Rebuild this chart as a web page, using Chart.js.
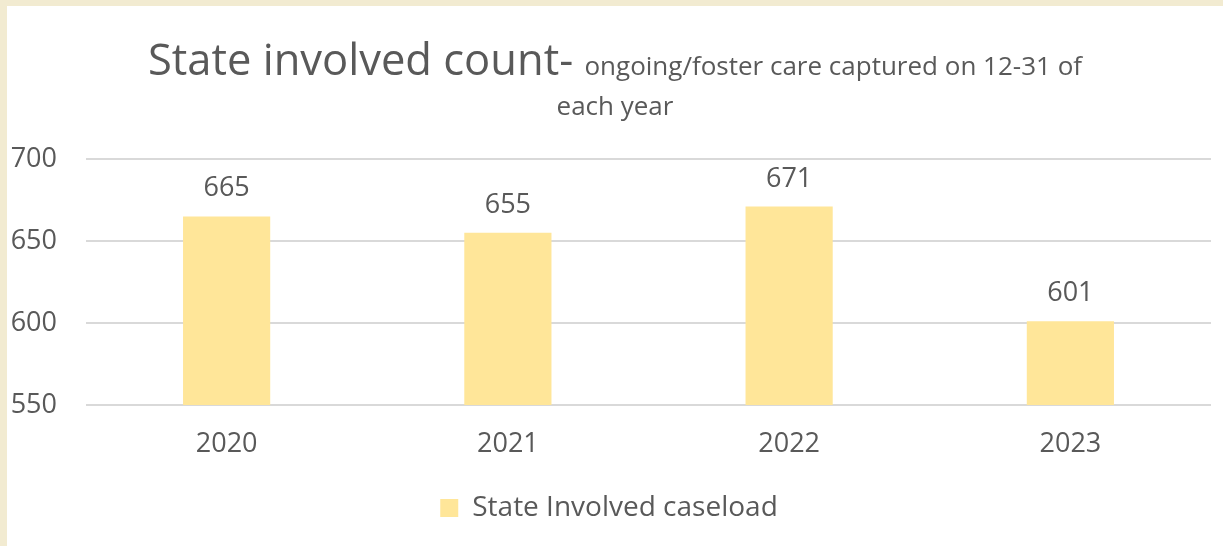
<!DOCTYPE html>
<html>
<head>
<meta charset="utf-8">
<script src="https://cdn.jsdelivr.net/npm/chart.js@4/dist/chart.umd.min.js"></script>
<style>
  html, body { margin: 0; padding: 0; }
  body { width: 1223px; height: 546px; background: #F2EBD1; position: relative; overflow: hidden; font-family: "Open Sans", sans-serif; }
  #panel { position: absolute; left: 7px; top: 6px; width: 1216px; height: 540px; background: #ffffff; }
  #chart { position: absolute; left: 0; top: 0; width: 1216px; height: 540px; }
  .t1 { position: absolute; left: 0; top: 23px; width: 1216px; text-align: center; color: #595959; font-size: 43.5px; line-height: 60px; white-space: nowrap; }
  .t1 span { font-size: 26px; }
  .t2 { position: absolute; left: 0; top: 84px; width: 1216px; text-align: center; color: #595959; font-size: 26px; line-height: 30px; white-space: nowrap; }
</style>
</head>
<body>
<div id="panel">
  <canvas id="chart" width="1216" height="540"></canvas>
  <div class="t1">State involved count- <span>ongoing/foster care captured on 12-31 of</span></div>
  <div class="t2">each year</div>
</div>
<script>
const categories = ['2020', '2021', '2022', '2023'];
const caseload = [665, 655, 671, 601];
const seriesName = 'State Involved caseload';
const yMin = 550;
const yMax = 700;
const yStep = 50;

const textColor = '#595959';
const barColor = '#FFE699';
const fontFamily = '"Open Sans", sans-serif';

const valueLabels = {
  id: 'valueLabels',
  afterDatasetsDraw(chart) {
    const ctx = chart.ctx;
    const meta = chart.getDatasetMeta(0);
    ctx.save();
    ctx.fillStyle = textColor;
    ctx.font = '27px ' + fontFamily;
    ctx.textAlign = 'center';
    ctx.textBaseline = 'alphabetic';
    meta.data.forEach((bar, i) => {
      ctx.fillText(String(chart.data.datasets[0].data[i]), bar.x, bar.y - 20);
    });
    ctx.restore();
  }
};

new Chart(document.getElementById('chart'), {
  type: 'bar',
  data: {
    labels: categories,
    datasets: [{
      label: seriesName,
      data: caseload,
      backgroundColor: barColor,
      borderWidth: 0,
      barPercentage: 0.31,
      categoryPercentage: 1.0
    }]
  },
  options: {
    responsive: false,
    animation: false,
    devicePixelRatio: 1,
    layout: { padding: { top: 153, right: 12, bottom: 14, left: 0 } },
    plugins: {
      legend: {
        position: 'bottom',
        labels: {
          color: textColor,
          font: { family: fontFamily, size: 28 },
          boxWidth: 18,
          boxHeight: 18,
          padding: 10
        }
      },
      tooltip: { enabled: false },
      title: { display: false }
    },
    scales: {
      x: {
        grid: { display: false },
        border: { display: false },
        ticks: { color: textColor, font: { family: fontFamily, size: 27 }, padding: 15 },
        afterFit(scale) { scale.height = 79; }
      },
      y: {
        min: yMin,
        max: yMax,
        ticks: { stepSize: yStep, color: textColor, font: { family: fontFamily, size: 27 }, padding: 29 },
        grid: { color: '#D9D9D9', lineWidth: 2, drawTicks: false },
        border: { display: false },
        afterFit(scale) { scale.width = 79; }
      }
    }
  },
  plugins: [valueLabels]
});
</script>
</body>
</html>
